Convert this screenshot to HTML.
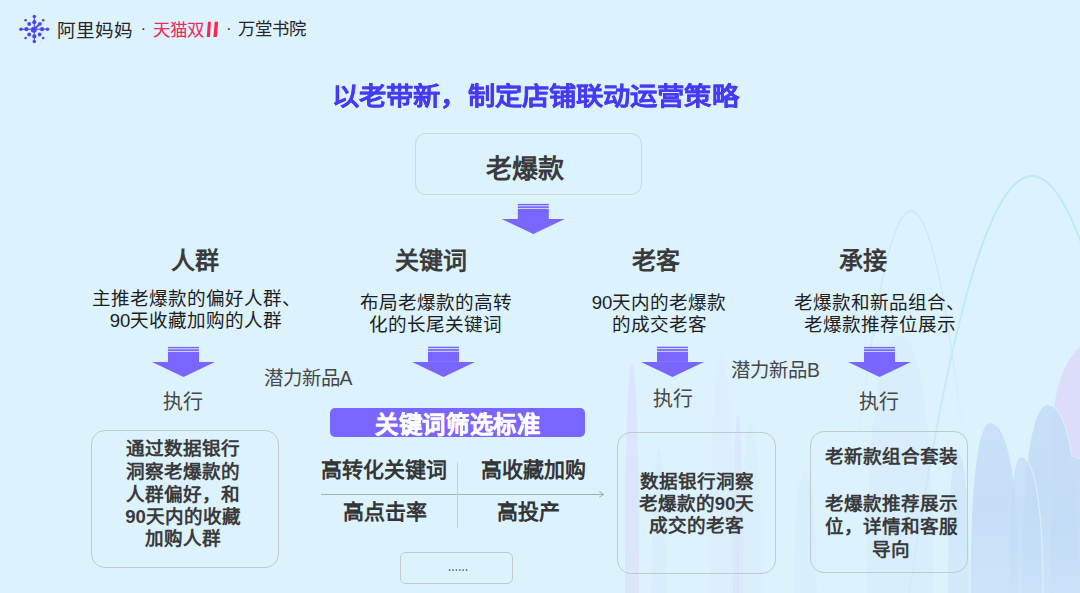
<!DOCTYPE html>
<html lang="zh-CN">
<head>
<meta charset="utf-8">
<style>
html,body{margin:0;padding:0;}
body{width:1080px;height:593px;overflow:hidden;position:relative;background:#dcf2fd;font-family:"Liberation Sans",sans-serif;}
.a{position:absolute;white-space:nowrap;}
.c{text-align:center;}
.hd{font-size:24px;font-weight:700;color:#3b3b3b;line-height:24px;}
.ds{font-size:18.6px;color:#1e1e1e;line-height:22px;}
.ex{font-size:20px;color:#474747;line-height:20px;}
.np{font-size:19.4px;color:#474747;line-height:20px;}
.bx{position:absolute;border:1px solid #c2cacf;border-radius:14px;box-sizing:border-box;}
.bt{font-size:18.6px;font-weight:700;color:#3a3a3a;line-height:20px;}
.kw{font-size:21px;font-weight:700;color:#363636;line-height:22px;}
</style>
</head>
<body>
<!-- background decoration -->
<svg class="a" style="left:0;top:0" width="1080" height="593" viewBox="0 0 1080 593">
<defs>
<linearGradient id="gb" x1="0" y1="0" x2="0" y2="1"><stop offset="0" stop-color="#c6ddf7"/><stop offset="0.5" stop-color="#c2dcf6"/><stop offset="1" stop-color="#cae3f9"/></linearGradient>
<linearGradient id="gp" x1="0" y1="0" x2="0" y2="1"><stop offset="0" stop-color="#ddd3f8"/><stop offset="1" stop-color="#d6d6f8"/></linearGradient>
<linearGradient id="gs1" gradientUnits="userSpaceOnUse" x1="0" y1="200" x2="0" y2="440"><stop offset="0" stop-color="#cde6f8" stop-opacity="0.9"/><stop offset="0.6" stop-color="#cde6f8" stop-opacity="0.7"/><stop offset="1" stop-color="#cde6f8" stop-opacity="0"/></linearGradient>
<linearGradient id="gs2" gradientUnits="userSpaceOnUse" x1="0" y1="170" x2="0" y2="593"><stop offset="0" stop-color="#b5e9f4" stop-opacity="0.95"/><stop offset="0.35" stop-color="#b8e6f4" stop-opacity="0.7"/><stop offset="1" stop-color="#bfe0f6" stop-opacity="0.25"/></linearGradient>
<filter id="bl" x="-10%" y="-10%" width="120%" height="120%"><feGaussianBlur stdDeviation="0.6"/></filter>
</defs>
<path d="M866 600 C866 393.3 883.0 335 900 335 C917.0 335 934 393.3 934 600 Z" fill="#d2e7fb" opacity="0.35"/><path d="M866 600 C866 393.3 883.0 335 900 335 C917.0 335 934 393.3 934 600" fill="none" stroke="#e6f4fd" stroke-width="1" opacity="0.5"/>
<path d="M625 600 C625 415.9 628.5 364 632 364 C635.5 364 639 415.9 639 600 Z" fill="#d9d6fa" opacity="0.45"/>
<path d="M651 600 C651 481.4 655.0 448 659 448 C663.0 448 667 481.4 667 600 Z" fill="#d3e6fb" opacity="0.3"/><path d="M651 600 C651 481.4 655.0 448 659 448 C663.0 448 667 481.4 667 600" fill="none" stroke="#e6f4fd" stroke-width="1" opacity="0.4"/>
<path d="M709 600 C709 408.1 715.0 354 721 354 C728.0 354 735 408.1 735 600 Z" fill="#d6eafb" opacity="0.2"/><path d="M709 600 C709 408.1 715.0 354 721 354 C728.0 354 735 408.1 735 600" fill="none" stroke="#e8f5fe" stroke-width="1" opacity="0.5"/>
<path d="M733 600 C733 454.9 735.5 414 738 414 C740.5 414 743 454.9 743 600 Z" fill="#dad6fa" opacity="0.4"/>
<path d="M740.5 600 C740.5 461.9 745.5 423 750.5 423 C756.5 423 762.5 461.9 762.5 600 Z" fill="#d3e7fb" opacity="0.3"/><path d="M740.5 600 C740.5 461.9 745.5 423 750.5 423 C756.5 423 762.5 461.9 762.5 600" fill="none" stroke="#e8f5fe" stroke-width="1" opacity="0.4"/>
<path d="M793 600 C793 498.6 799.0 470 805 470 C811.0 470 817 498.6 817 600 Z" fill="#d2e6fb" opacity="0.3"/><path d="M793 600 C793 498.6 799.0 470 805 470 C811.0 470 817 498.6 817 600" fill="none" stroke="#e6f4fd" stroke-width="1" opacity="0.4"/>
<path d="M1052 600 L1052 440 C1052 365 1080 335 1110 335 C1140 335 1168 365 1168 440 L1168 600 Z" fill="url(#gp)" opacity="0.7"/>
<path d="M843 599.5 Q911 -177.5 979 599.5" fill="none" stroke="url(#gs1)" stroke-width="2" filter="url(#bl)"/>
<path d="M909.4 593 Q1032 -241 1154.6 593" fill="none" stroke="url(#gs2)" stroke-width="2.2" filter="url(#bl)"/>
<path d="M948 600 C948 484.6 953.0 452 958 452 C964.0 452 970 484.6 970 600 Z" fill="url(#gb)" opacity="0.45"/><path d="M958 452 C964.0 452 970 484.6 970 600" fill="none" stroke="#e4f3fd" stroke-width="1.2" opacity="0.7"/>
<path d="M970.5 600 C970.5 461.9 980.5 423 990.5 423 C1005.0 423 1019.5 461.9 1019.5 600 Z" fill="url(#gb)" opacity="0.85"/><path d="M990.5 423 C1005.0 423 1019.5 461.9 1019.5 600" fill="none" stroke="#e4f3fd" stroke-width="1.2" opacity="0.7"/>
<path d="M1022 600 C1022 447.9 1035.0 405 1048 405 C1064.0 405 1080 447.9 1080 600 Z" fill="url(#gb)" opacity="0.9"/><path d="M1048 405 C1064.0 405 1080 447.9 1080 600" fill="none" stroke="#e4f3fd" stroke-width="1.2" opacity="0.7"/>
<path d="M1009 600 C1009 488.5 1015.0 457 1021 457 C1032.0 457 1043 488.5 1043 600 Z" fill="url(#gb)" opacity="0.8"/><path d="M1021 457 C1032.0 457 1043 488.5 1043 600" fill="none" stroke="#e4f3fd" stroke-width="1.2" opacity="0.7"/>
<path d="M1049 600 C1049 488.5 1062.0 457 1075 457 C1088.0 457 1101 488.5 1101 600 Z" fill="url(#gb)" opacity="0.85"/><path d="M1075 457 C1088.0 457 1101 488.5 1101 600" fill="none" stroke="#e4f3fd" stroke-width="1.2" opacity="0.7"/>
</svg>

<!-- arrows -->
<svg class="a" style="left:0;top:0" width="1080" height="593" viewBox="0 0 1080 593">
  <defs>
    <g id="arw">
      <rect x="0" y="0" width="31" height="1.5" fill="#7866fe"/>
      <rect x="0" y="2.4" width="31" height="1.8" fill="#7866fe"/>
      <rect x="0" y="5" width="31" height="10.2" fill="#7866fe"/>
      <path d="M-16 15.2 L47 15.2 L15.5 30.2 Z" fill="#7866fe"/>
    </g>
  </defs>
  <use href="#arw" x="517.8" y="203.9"/>
  <use href="#arw" x="168" y="346.9"/>
  <use href="#arw" x="428" y="346.7"/>
  <use href="#arw" x="657" y="346.7"/>
  <use href="#arw" x="864" y="346.9"/>
</svg>

<!-- header logo -->
<svg class="a" style="left:0;top:0" width="60" height="60" viewBox="0 0 60 60">
  <g fill="#4f45e8" stroke="#4f45e8">
    <line x1="34.3" y1="16.6" x2="34.3" y2="41.5" stroke-width="1.1"/>
    <line x1="21" y1="29.2" x2="47.5" y2="29.2" stroke-width="1.1"/>
    <line x1="33.8" y1="29.6" x2="40" y2="23.8" stroke-width="2"/>
    <circle cx="34.3" cy="16.6" r="1.75" stroke="none"/>
    <circle cx="34.3" cy="22.2" r="2.1" stroke="none"/>
    <circle cx="34.3" cy="41.5" r="1.75" stroke="none"/>
    <circle cx="34.3" cy="36.4" r="2.1" stroke="none"/>
    <circle cx="21" cy="29.2" r="1.75" stroke="none"/>
    <circle cx="26.4" cy="29.2" r="2.1" stroke="none"/>
    <circle cx="47.5" cy="29.2" r="1.75" stroke="none"/>
    <circle cx="42.1" cy="29.2" r="2.1" stroke="none"/>
    <circle cx="25.6" cy="20.3" r="1.3" stroke="none"/>
    <circle cx="43.2" cy="20.3" r="1.3" stroke="none"/>
    <circle cx="25.6" cy="38" r="1.3" stroke="none"/>
    <circle cx="43.2" cy="38" r="1.3" stroke="none"/>
    <circle cx="29.2" cy="24" r="1.9" stroke="none"/>
    <circle cx="40" cy="23.8" r="1.9" stroke="none"/>
    <circle cx="29.2" cy="34.5" r="1.9" stroke="none"/>
    <circle cx="39.6" cy="34.5" r="1.9" stroke="none"/>
    <circle cx="33.8" cy="29.8" r="3.0" stroke="none"/>
  </g>
</svg>
<div class="a" id="logo" style="left:56.5px;top:20.5px;font-size:18.6px;line-height:20px;color:#262626;font-weight:400">阿里妈妈</div>
<div class="a" style="left:140.5px;top:18.5px;font-size:17px;line-height:20px;color:#444">·</div>
<div class="a" style="left:153px;top:19.5px;font-size:17.5px;line-height:20px;color:#f5285a;font-weight:500">天猫双</div>
<svg class="a" style="left:0;top:0" width="240" height="50" viewBox="0 0 240 50"><path d="M207.9 21.8 L210.9 21.8 L210 37 L206.8 37 Z M214.7 21.8 L218.2 21.8 L216.9 37 L213.4 37 Z" fill="#f72858"/></svg>
<div class="a" style="left:226px;top:18.5px;font-size:17px;line-height:20px;color:#444">·</div>
<div class="a" style="left:237.5px;top:19px;font-size:17.4px;line-height:20px;color:#262626">万堂书院</div>

<!-- title -->
<div class="a" id="title" style="left:331.5px;top:83px;font-size:27.2px;line-height:30px;font-weight:700;color:#483af3;-webkit-text-stroke:0.3px #483af3;transform:scale(1.004,0.935);transform-origin:0 0">以老带新，制定店铺联动运营策略</div>

<!-- top box -->
<div class="bx" style="left:414.5px;top:132.7px;width:227.5px;height:62.5px;border:1.5px solid #c8d9e2;border-radius:11px"></div>
<div class="a c" style="left:411.5px;top:153.5px;width:227px;font-size:26px;line-height:30px;font-weight:700;color:#3b3b3b">老爆款</div>

<!-- column headers -->
<div class="a c hd" style="left:145px;top:249px;width:100px">人群</div>
<div class="a c hd" style="left:381px;top:249px;width:100px">关键词</div>
<div class="a c hd" style="left:606px;top:249px;width:100px">老客</div>
<div class="a c hd" style="left:813px;top:249px;width:100px">承接</div>

<!-- descriptions -->
<div class="a c ds" style="left:46px;top:288px;width:300px">主推老爆款的偏好人群、<br>90天收藏加购的人群</div>
<div class="a c ds" style="left:285.5px;top:292px;width:300px">布局老爆款的高转<br>化的长尾关键词</div>
<div class="a c ds" style="left:509px;top:292px;width:300px">90天内的老爆款<br>的成交老客</div>
<div class="a c ds" style="left:729.5px;top:292px;width:300px">老爆款和新品组合、<br>老爆款推荐位展示</div>

<!-- 执行 -->
<div class="a ex" style="left:162.5px;top:392px">执行</div>
<div class="a ex" style="left:652.5px;top:389px">执行</div>
<div class="a ex" style="left:858.5px;top:392.3px">执行</div>

<!-- 潜力新品 -->
<div class="a np" style="left:263.5px;top:368px">潜力新品A</div>
<div class="a np" style="left:731px;top:360px">潜力新品B</div>

<!-- badge -->
<div class="a" style="left:330px;top:407.5px;width:255px;height:29px;background:#7866fe;border-radius:5px"></div>
<div class="a c" style="left:330px;top:411.5px;width:255px;font-size:23.3px;line-height:26px;font-weight:700;color:#fff;letter-spacing:0.6px;text-indent:0.6px;-webkit-text-stroke:0.4px #fff">关键词筛选标准</div>

<!-- keyword grid -->
<div class="a kw" style="left:321px;top:459px">高转化关键词</div>
<div class="a kw" style="left:481px;top:459px">高收藏加购</div>
<div class="a kw" style="left:343px;top:500.5px">高点击率</div>
<div class="a kw" style="left:497px;top:500.5px">高投产</div>
<svg class="a" style="left:0;top:0" width="1080" height="593" viewBox="0 0 1080 593">
  <line x1="321" y1="494.5" x2="603" y2="494.5" stroke="#a8aeb2" stroke-width="1"/>
  <path d="M599.2 491.4 L603.8 494.5 L599.2 497.2" fill="none" stroke="#a8aeb2" stroke-width="1"/>
  <line x1="457.5" y1="462" x2="457.5" y2="528" stroke="#c9cfd3" stroke-width="1"/>
</svg>

<!-- dots box -->
<div class="bx" style="left:400px;top:552px;width:113px;height:32px;border-radius:6px"></div>

<svg class="a" style="left:0;top:0" width="1080" height="593" viewBox="0 0 1080 593"><g fill="#4a4a4a">
<circle cx="449.6" cy="570" r="0.85"/><circle cx="453.0" cy="570" r="0.85"/><circle cx="456.4" cy="570" r="0.85"/><circle cx="459.8" cy="570" r="0.85"/><circle cx="463.2" cy="570" r="0.85"/><circle cx="466.6" cy="570" r="0.85"/></g></svg>
<!-- bottom boxes -->
<div class="bx" style="left:91px;top:430px;width:188px;height:138px"></div>
<div class="a c bt" style="left:89px;top:439px;width:188px">通过数据银行</div>
<div class="a c bt" style="left:89px;top:462px;width:188px">洞察老爆款的</div>
<div class="a c bt" style="left:89px;top:484.6px;width:188px">人群偏好，和</div>
<div class="a c bt" style="left:89px;top:507px;width:188px">90天内的收藏</div>
<div class="a c bt" style="left:89px;top:529px;width:188px">加购人群</div>

<div class="bx" style="left:617px;top:432px;width:159px;height:142px"></div>
<div class="a c bt" style="left:617px;top:471.5px;width:159px">数据银行洞察</div>
<div class="a c bt" style="left:617px;top:493.5px;width:159px">老爆款的90天</div>
<div class="a c bt" style="left:617px;top:515.5px;width:159px">成交的老客</div>

<div class="bx" style="left:810px;top:431px;width:158px;height:142px"></div>
<div class="a c bt" style="left:812px;top:447px;width:158px">老新款组合套装</div>
<div class="a c bt" style="left:812px;top:493.6px;width:158px">老爆款推荐展示</div>
<div class="a c bt" style="left:812px;top:516.8px;width:158px">位，详情和客服</div>
<div class="a c bt" style="left:812px;top:540px;width:158px">导向</div>
</body>
</html>
